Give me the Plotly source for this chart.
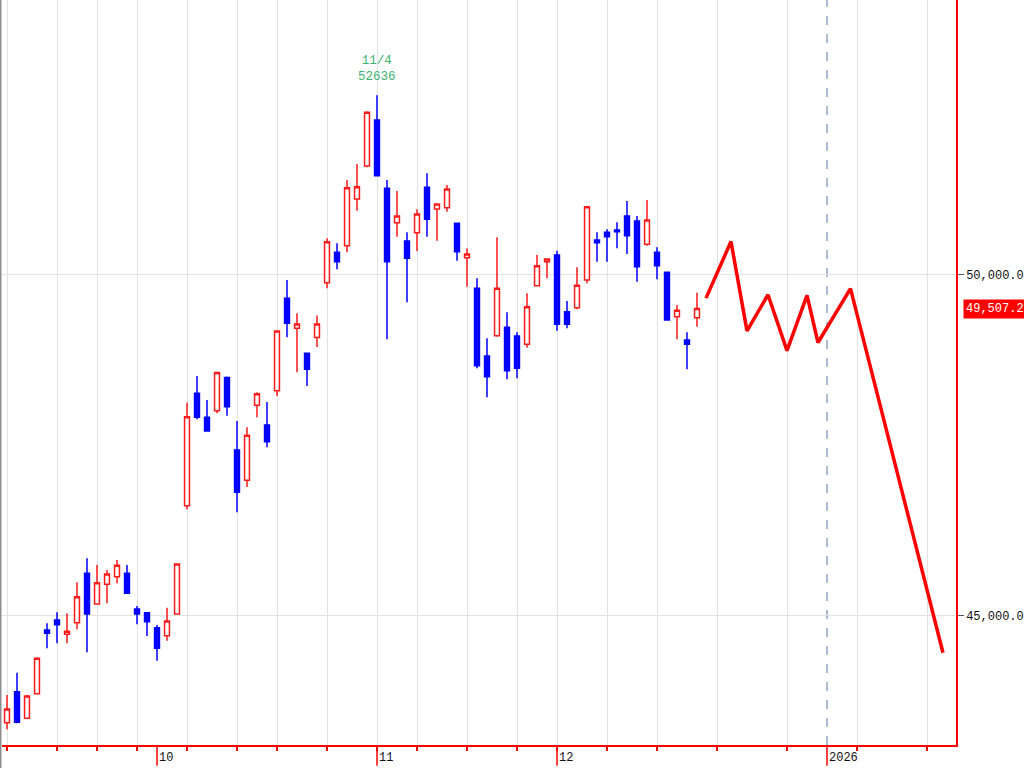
import plotly.graph_objects as go
import pandas as pd

# ---- data (Nikkei 225 daily) ----
dates = [
    "2025-09-08", "2025-09-09", "2025-09-10", "2025-09-11", "2025-09-12",
    "2025-09-16", "2025-09-17", "2025-09-18", "2025-09-19", "2025-09-22",
    "2025-09-24", "2025-09-25", "2025-09-26", "2025-09-29", "2025-09-30",
    "2025-10-01", "2025-10-02", "2025-10-03", "2025-10-06", "2025-10-07",
    "2025-10-08", "2025-10-09", "2025-10-10", "2025-10-14", "2025-10-15",
    "2025-10-16", "2025-10-17", "2025-10-20", "2025-10-21", "2025-10-22",
    "2025-10-23", "2025-10-24", "2025-10-27", "2025-10-28", "2025-10-29",
    "2025-10-30", "2025-10-31", "2025-11-04", "2025-11-05", "2025-11-06",
    "2025-11-07", "2025-11-10", "2025-11-11", "2025-11-12", "2025-11-13",
    "2025-11-14", "2025-11-17", "2025-11-18", "2025-11-19", "2025-11-20",
    "2025-11-21", "2025-11-25", "2025-11-26", "2025-11-27", "2025-11-28",
    "2025-12-01", "2025-12-02", "2025-12-03", "2025-12-04", "2025-12-05",
    "2025-12-08", "2025-12-09", "2025-12-10", "2025-12-11", "2025-12-12",
    "2025-12-15", "2025-12-16", "2025-12-17", "2025-12-18", "2025-12-19",
]
opens = [
    43435, 43890, 43500, 43861, 44795, 44941, 44732, 44902, 45626, 45176,
    45465, 45576, 45626, 45102, 45048, 44828, 44711, 45029, 46617, 48265,
    47913, 48010, 48497, 47434, 46990, 48089, 47801, 48304, 49658, 49218,
    48852, 49083, 49887, 50333, 50430, 51114, 51598, 52273, 51271, 50767,
    50499, 50620, 51286, 50968, 50987, 50758, 50254, 49805, 48812, 49110,
    49233, 49106, 48984, 49843, 50195, 50293, 49462, 49520, 49927, 50513,
    50626, 50660, 50865, 50792, 50450, 50333, 50040, 49389, 49047, 49374,
]
highs = [
    43841, 44168, 43842, 44394, 44893, 45054, 45040, 45494, 45846, 45748,
    45674, 45821, 45748, 45146, 45060, 44868, 45122, 45770, 48128, 48519,
    48167, 48582, 48510, 47859, 47767, 48282, 48138, 49190, 49927, 49438,
    48860, 49406, 50538, 50465, 51393, 51628, 52400, 52636, 51393, 51232,
    50626, 50963, 51491, 51045, 51320, 50765, 50389, 49952, 49072, 50553,
    49453, 49160, 49732, 50293, 50240, 50356, 49619, 50113, 51005, 50626,
    50670, 50773, 51085, 50865, 51100, 50406, 50045, 49560, 49160, 49740,
]
lows = [
    43339, 43427, 43490, 43852, 44526, 44600, 44600, 44805, 44468, 45170,
    45186, 45479, 45330, 44878, 44707, 44345, 44638, 45020, 46564, 47884,
    47702, 47972, 47937, 46520, 46891, 47913, 47474, 48226, 49087, 48573,
    48372, 48944, 49805, 50084, 50333, 50943, 51579, 51450, 49057, 50562,
    49600, 50352, 50562, 50503, 50928, 50210, 49828, 48632, 48207, 49095,
    48471, 48485, 48934, 49839, 49952, 49183, 49218, 49497, 49878, 50195,
    50195, 50392, 50308, 49902, 50430, 49937, 49330, 49057, 48617, 49242,
]
closes = [
    43636, 43441, 43827, 44380, 44746, 44872, 44776, 45283, 45029, 45488,
    45616, 45743, 45333, 45029, 44916, 44526, 44927, 45762, 47922, 47913,
    47713, 48570, 48069, 46814, 47650, 48260, 47556, 49179, 49292, 49281,
    48617, 49281, 50488, 50195, 51280, 51295, 52386, 51456, 50195, 50865,
    50245, 50894, 50817, 51041, 51261, 50342, 50308, 48670, 48509, 49805,
    48597, 48632, 49535, 50136, 50235, 49277, 49277, 49849, 51001, 50474,
    50562, 50635, 50576, 50122, 50806, 50136, 49340, 49482, 48984, 49507.2,
]

# forecast path: calendar days after the last session, and values
forecast_day_offset = [0.9, 3.4, 5.0, 7.1, 9.0, 11.0, 12.1, 15.35, 24.6]
forecast_values = [49660, 50490, 49180, 49710, 48890, 49700, 49010, 49800, 44460]

y_ticks = [45000, 50000]
y_range = [43108, 54032]

# ---- positions on a session-index axis ----
sess = pd.to_datetime(dates)
n = len(sess)
xi = list(range(n))
last_i = n - 1
last_day = sess[-1]

def future_pos(day):
    return last_i + (pd.Timestamp(day) - last_day).days

# weekly grid: first session of each week, then Sundays in the future area
week_ticks = [i for i in xi if i == 0 or sess[i].isocalendar()[1] != sess[i - 1].isocalendar()[1]]
for d in range(1, 30):
    day = last_day + pd.Timedelta(days=d)
    if day.weekday() == 6:
        week_ticks.append(last_i + d)

# month starts
month_marks = [(i, str(sess[i].month)) for i in xi if i > 0 and sess[i].month != sess[i - 1].month]
year_pos = future_pos("2026-01-01")
month_marks.append((year_pos, "2026"))

fx = [last_i + o for o in forecast_day_offset]

mono = "Liberation Mono"

fig = go.Figure()
fig.add_trace(go.Candlestick(
    x=xi, open=opens, high=highs, low=lows, close=closes,
    increasing=dict(line=dict(color="#ff1a1a", width=1.5), fillcolor="white"),
    decreasing=dict(line=dict(color="#0000ff", width=1.5), fillcolor="#0000ff"),
    hoverinfo="skip",
))
fig.add_trace(go.Scatter(
    x=fx, y=forecast_values, mode="lines",
    line=dict(color="#ff0000", width=3.5), hoverinfo="skip",
))

shapes = []
# dashed 2026 line
shapes.append(dict(type="line", xref="x", yref="paper", x0=year_pos, x1=year_pos, y0=0, y1=1,
                   line=dict(color="#8ea7c6", width=1.5, dash="dash"), layer="below"))
# long month ticks below axis
for pos, lab in month_marks:
    shapes.append(dict(type="line", xref="x", yref="paper", x0=pos, x1=pos, y0=0, y1=-0.028,
                       line=dict(color="#ff0000", width=1.5)))
# left border
shapes.append(dict(type="line", xref="paper", yref="paper", x0=-0.0016, x1=-0.0016, y0=-0.04, y1=1,
                   line=dict(color="#8c8c8c", width=2)))

annotations = []
for pos, lab in month_marks:
    annotations.append(dict(x=pos, y=0, xref="x", yref="paper", text=lab, showarrow=False,
                            xanchor="left", yanchor="top", xshift=0, yshift=-4,
                            font=dict(family=mono, size=12, color="#111")))
imax = max(xi, key=lambda i: highs[i])
annotations.append(dict(x=imax, y=highs[imax], xref="x", yref="y",
                        text=f"{sess[imax].month}/{sess[imax].day}<br>{int(highs[imax])}",
                        showarrow=False, xanchor="center", yanchor="bottom", yshift=9,
                        font=dict(family=mono, size=12.5, color="#3cb371")))
annotations.append(dict(x=1, y=closes[-1], xref="paper", yref="y", text=f"{closes[-1]:,.1f}",
                        showarrow=False, xanchor="left", yanchor="middle", xshift=7,
                        bgcolor="#ff0000", borderpad=2,
                        font=dict(family=mono, size=12, color="white")))

fig.update_layout(
    width=1024, height=768,
    margin=dict(l=2, r=68, t=0, b=23),
    paper_bgcolor="white", plot_bgcolor="white",
    showlegend=False,
    shapes=shapes, annotations=annotations,
    xaxis=dict(range=[-0.5, 94.9], tickmode="array", tickvals=week_ticks, showticklabels=False,
               ticks="outside", ticklen=4, tickcolor="#ff0000", tickwidth=1.5,
               showgrid=True, gridcolor="#e2e2e2", gridwidth=1,
               showline=True, linecolor="#ff0000", linewidth=2, zeroline=False,
               rangeslider=dict(visible=False), fixedrange=True),
    yaxis=dict(side="right", range=y_range, tickmode="array", tickvals=y_ticks, tickformat=",.1f",
               ticks="outside", ticklen=6, tickcolor="#555555",
               showgrid=True, gridcolor="#e2e2e2", gridwidth=1,
               showline=True, linecolor="#ff0000", linewidth=1.5, zeroline=False,
               tickfont=dict(family=mono, size=12, color="#111"), fixedrange=True),
)

fig.write_html("out.html", config={"displayModeBar": False},
               post_script="document.body.style.margin='0';document.body.style.overflow='hidden';")
